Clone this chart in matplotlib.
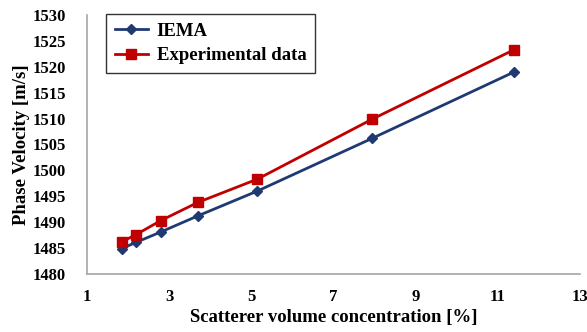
import matplotlib.pyplot as plt

# volume concentration [%]
conc = [1.85, 2.2, 2.8, 3.7, 5.15, 7.95, 11.4]
iema = [1484.9, 1486.1, 1488.1, 1491.2, 1496.0, 1506.2, 1519.0]
experimental = [1486.2, 1487.6, 1490.3, 1493.8, 1498.3, 1509.9, 1523.3]

x_ticks = [1, 3, 5, 7, 9, 11, 13]
y_ticks = list(range(1480, 1531, 5))

plt.rcParams['font.family'] = ['Liberation Serif', 'DejaVu Serif']
plt.rcParams['font.weight'] = 'bold'

fig = plt.figure(figsize=(5.87, 3.32), dpi=100)
ax = fig.add_axes([0.148, 0.175, 0.84, 0.78])

ax.plot(conc, iema, color='#1f3a73', lw=2, marker='D', ms=5, label='IEMA')
ax.plot(conc, experimental, color='#c00000', lw=2, marker='s', ms=6.5,
        label='Experimental data')

ax.set_xlim(1, 13)
ax.set_ylim(1480, 1530)
ax.set_xticks(x_ticks)
ax.set_yticks(y_ticks)
ax.tick_params(axis='y', length=0, labelsize=12, pad=15)
ax.tick_params(axis='x', length=0, labelsize=12, pad=11)
for lab in ax.get_xticklabels() + ax.get_yticklabels():
    lab.set_fontweight('bold')

for s in ['top', 'right']:
    ax.spines[s].set_visible(False)
for s in ['left', 'bottom']:
    ax.spines[s].set_color('#a6a6a6')
    ax.spines[s].set_linewidth(1.2)

ax.set_xlabel('Scatterer volume concentration [%]', fontsize=13.5,
              fontweight='bold', labelpad=3)
ax.set_ylabel('Phase Velocity [m/s]', fontsize=13.5, fontweight='bold',
              labelpad=2)

leg = ax.legend(loc='upper left', bbox_to_anchor=(0.02, 1.04), fancybox=False,
                edgecolor='black', prop={'size': 13.5, 'weight': 'bold'},
                handlelength=1.8, handletextpad=0.45, borderpad=0.45,
                labelspacing=0.4)
leg.get_frame().set_linewidth(1.0)

fig.savefig('out.png', dpi=100)
